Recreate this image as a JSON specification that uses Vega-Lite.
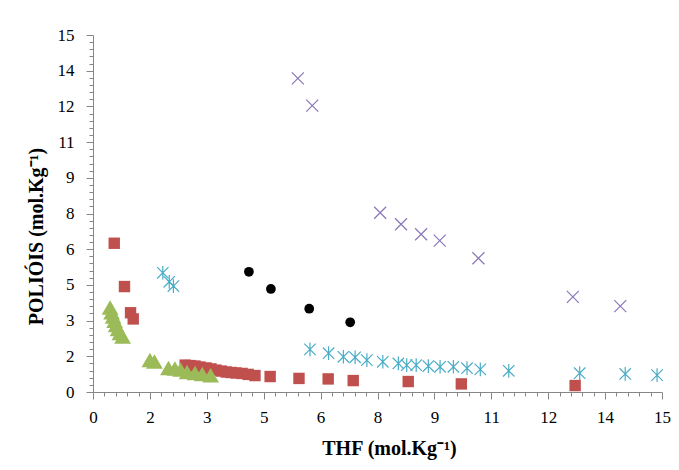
{
  "$schema": "https://vega.github.io/schema/vega-lite/v6.json",
  "width": 569,
  "height": 357,
  "autosize": "none",
  "padding": {"left": 93, "top": 35, "right": 17, "bottom": 78},
  "background": "white",
  "config": {"view": {"stroke": null}},
  "data": {
    "values": [
      {"serie": "A", "thf": 0.56, "poliois": 6.25},
      {"serie": "A", "thf": 0.83, "poliois": 4.43},
      {"serie": "A", "thf": 0.99, "poliois": 3.33},
      {"serie": "A", "thf": 1.06, "poliois": 3.07},
      {"serie": "A", "thf": 2.43, "poliois": 1.13},
      {"serie": "A", "thf": 2.56, "poliois": 1.11},
      {"serie": "A", "thf": 2.69, "poliois": 1.09},
      {"serie": "A", "thf": 2.82, "poliois": 1.05},
      {"serie": "A", "thf": 2.98, "poliois": 1.01},
      {"serie": "A", "thf": 3.11, "poliois": 0.97},
      {"serie": "A", "thf": 3.24, "poliois": 0.92},
      {"serie": "A", "thf": 3.38, "poliois": 0.88},
      {"serie": "A", "thf": 3.51, "poliois": 0.84},
      {"serie": "A", "thf": 3.64, "poliois": 0.82},
      {"serie": "A", "thf": 3.77, "poliois": 0.80},
      {"serie": "A", "thf": 3.93, "poliois": 0.78},
      {"serie": "A", "thf": 4.09, "poliois": 0.74},
      {"serie": "A", "thf": 4.27, "poliois": 0.69},
      {"serie": "A", "thf": 4.67, "poliois": 0.65},
      {"serie": "A", "thf": 5.43, "poliois": 0.57},
      {"serie": "A", "thf": 6.20, "poliois": 0.55},
      {"serie": "A", "thf": 6.86, "poliois": 0.48},
      {"serie": "A", "thf": 8.31, "poliois": 0.44},
      {"serie": "A", "thf": 9.71, "poliois": 0.34},
      {"serie": "A", "thf": 12.71, "poliois": 0.27},
      {"serie": "B", "thf": 0.45, "poliois": 3.55},
      {"serie": "B", "thf": 0.49, "poliois": 3.35},
      {"serie": "B", "thf": 0.53, "poliois": 3.17},
      {"serie": "B", "thf": 0.57, "poliois": 2.99},
      {"serie": "B", "thf": 0.61, "poliois": 2.82},
      {"serie": "B", "thf": 0.66, "poliois": 2.65},
      {"serie": "B", "thf": 0.71, "poliois": 2.48},
      {"serie": "B", "thf": 0.78, "poliois": 2.33},
      {"serie": "B", "thf": 1.50, "poliois": 1.34},
      {"serie": "B", "thf": 1.62, "poliois": 1.28},
      {"serie": "B", "thf": 1.99, "poliois": 1.01},
      {"serie": "B", "thf": 2.16, "poliois": 0.99},
      {"serie": "B", "thf": 2.31, "poliois": 0.94},
      {"serie": "B", "thf": 2.48, "poliois": 0.84},
      {"serie": "B", "thf": 2.69, "poliois": 0.80},
      {"serie": "B", "thf": 2.88, "poliois": 0.76},
      {"serie": "B", "thf": 3.10, "poliois": 0.70},
      {"serie": "D", "thf": 4.11, "poliois": 5.05},
      {"serie": "D", "thf": 4.69, "poliois": 4.33},
      {"serie": "D", "thf": 5.70, "poliois": 3.50},
      {"serie": "D", "thf": 6.78, "poliois": 2.93},
      {"serie": "C", "thf": 1.84, "poliois": 5.01},
      {"serie": "C", "thf": 2.01, "poliois": 4.63},
      {"serie": "C", "thf": 2.12, "poliois": 4.45},
      {"serie": "C", "thf": 5.72, "poliois": 1.79},
      {"serie": "C", "thf": 6.21, "poliois": 1.63},
      {"serie": "C", "thf": 6.60, "poliois": 1.48},
      {"serie": "C", "thf": 6.91, "poliois": 1.46},
      {"serie": "C", "thf": 7.22, "poliois": 1.34},
      {"serie": "C", "thf": 7.64, "poliois": 1.27},
      {"serie": "C", "thf": 8.05, "poliois": 1.20},
      {"serie": "C", "thf": 8.27, "poliois": 1.13},
      {"serie": "C", "thf": 8.52, "poliois": 1.13},
      {"serie": "C", "thf": 8.84, "poliois": 1.09},
      {"serie": "C", "thf": 9.15, "poliois": 1.06},
      {"serie": "C", "thf": 9.50, "poliois": 1.06},
      {"serie": "C", "thf": 9.86, "poliois": 1.00},
      {"serie": "C", "thf": 10.21, "poliois": 0.95},
      {"serie": "C", "thf": 10.96, "poliois": 0.89},
      {"serie": "C", "thf": 12.83, "poliois": 0.79},
      {"serie": "C", "thf": 14.03, "poliois": 0.76},
      {"serie": "C", "thf": 14.87, "poliois": 0.71},
      {"serie": "E", "thf": 5.40, "poliois": 13.18},
      {"serie": "E", "thf": 5.78, "poliois": 12.03},
      {"serie": "E", "thf": 7.57, "poliois": 7.53},
      {"serie": "E", "thf": 8.12, "poliois": 7.05},
      {"serie": "E", "thf": 8.65, "poliois": 6.63},
      {"serie": "E", "thf": 9.14, "poliois": 6.36},
      {"serie": "E", "thf": 10.16, "poliois": 5.62},
      {"serie": "E", "thf": 12.65, "poliois": 4.00},
      {"serie": "E", "thf": 13.90, "poliois": 3.61}
    ]
  },
  "encoding": {
    "x": {
      "field": "thf", "type": "quantitative",
      "scale": {"domain": [0, 15], "nice": false, "zero": false},
      "axis": {
        "values": [0,0.3,0.6,0.9,1.2,1.5,1.8,2.1,2.4,2.7,3,3.3,3.6,3.9,4.2,4.5,4.8,5.1,5.4,5.7,6,6.3,6.6,6.9,7.2,7.5,7.8,8.1,8.4,8.7,9,9.3,9.6,9.9,10.2,10.5,10.8,11.1,11.4,11.7,12,12.3,12.6,12.9,13.2,13.5,13.8,14.1,14.4,14.7,15],
        "labelExpr": "abs(datum.value/1.5 - round(datum.value/1.5)) < 0.001 ? format(round(datum.value), 'd') : ''",
        "tickSize": {"condition": {"test": "abs(datum.value/1.5 - round(datum.value/1.5)) < 0.001", "value": 7}, "value": 4},
        "labelPadding": 10,
        "labelFont": "Liberation Serif", "labelFontSize": 17, "labelColor": "#000000",
        "labelFlush": false, "labelOverlap": false, "labelBound": false,
        "domainColor": "#868686", "tickColor": "#868686", "grid": false,
        "title": "THF (mol.Kg⁻¹)",
        "titleFont": "Liberation Serif", "titleFontSize": 20, "titleFontWeight": "bold", "titleColor": "#000000",
        "titleX": 296, "titleY": 62, "titleBaseline": "alphabetic", "titleAlign": "center"
      }
    },
    "y": {
      "field": "poliois", "type": "quantitative",
      "scale": {"domain": [0, 15], "nice": false, "zero": false},
      "axis": {
        "values": [0,0.3,0.6,0.9,1.2,1.5,1.8,2.1,2.4,2.7,3,3.3,3.6,3.9,4.2,4.5,4.8,5.1,5.4,5.7,6,6.3,6.6,6.9,7.2,7.5,7.8,8.1,8.4,8.7,9,9.3,9.6,9.9,10.2,10.5,10.8,11.1,11.4,11.7,12,12.3,12.6,12.9,13.2,13.5,13.8,14.1,14.4,14.7,15],
        "labelExpr": "abs(datum.value/1.5 - round(datum.value/1.5)) < 0.001 ? format(round(datum.value), 'd') : ''",
        "tickSize": {"condition": {"test": "abs(datum.value/1.5 - round(datum.value/1.5)) < 0.001", "value": 7}, "value": 4},
        "labelPadding": 12,
        "labelFont": "Liberation Serif", "labelFontSize": 17, "labelColor": "#000000",
        "labelFlush": false, "labelOverlap": false, "labelBound": false,
        "domainColor": "#868686", "tickColor": "#868686", "grid": false,
        "title": "POLIÓIS (mol.Kg⁻¹)",
        "titleFont": "Liberation Serif", "titleFontSize": 20, "titleFontWeight": "bold", "titleColor": "#000000",
        "titleX": -51, "titleY": 201, "titleBaseline": "alphabetic", "titleAlign": "center", "titleAngle": 270
      }
    },
    "color": {
      "field": "serie", "type": "nominal",
      "scale": {"domain": ["A", "B", "C", "D", "E"], "range": ["#c0504d", "#9bbb59", "#4bacc6", "#000000", "#8a76b8"]},
      "legend": null
    },
    "shape": {
      "field": "serie", "type": "nominal",
      "scale": {"domain": ["A", "B", "C", "D", "E"], "range": ["square", "triangle-up", "M-1,-1L1,1M-1,1L1,-1M0,-1.2L0,1.2", "circle", "M-1,-1L1,1M-1,1L1,-1"]},
      "legend": null
    }
  },
  "layer": [
    {
      "transform": [{"filter": "datum.serie === 'A'"}],
      "mark": {"type": "point", "filled": true, "opacity": 1, "size": 130}
    },
    {
      "transform": [{"filter": "datum.serie === 'B'"}],
      "mark": {"type": "point", "filled": true, "opacity": 1, "size": 280}
    },
    {
      "transform": [{"filter": "datum.serie === 'D'"}],
      "mark": {"type": "point", "filled": true, "opacity": 1, "size": 95}
    },
    {
      "transform": [{"filter": "datum.serie === 'C'"}],
      "mark": {"type": "point", "filled": false, "opacity": 1, "strokeWidth": 1.2, "size": 130}
    },
    {
      "transform": [{"filter": "datum.serie === 'E'"}],
      "mark": {"type": "point", "filled": false, "opacity": 1, "strokeWidth": 1.2, "size": 144}
    }
  ]
}
